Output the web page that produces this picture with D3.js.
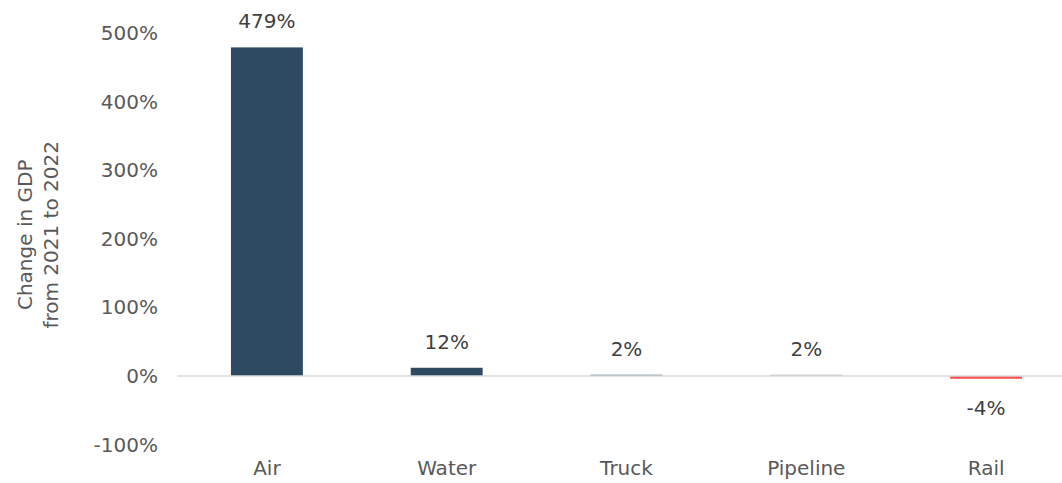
<!DOCTYPE html>
<html>
<head>
<meta charset="utf-8">
<script src="https://cdn.jsdelivr.net/npm/d3@7"></script>
<style>
  body { margin: 0; background: #fff; }
  svg text { font-family: "DejaVu Sans", sans-serif; }
</style>
</head>
<body>
<svg width="1062" height="483"></svg>
<script>
// data
var modes = ["Air", "Water", "Truck", "Pipeline", "Rail"];
var changes = [479, 12, 2, 2, -4];
var barColors = ["#2e4a62", "#2e4a62", "#7d92a6", "#b7c3cf", "#ff4b4b"];
var yTicks = [-100, 0, 100, 200, 300, 400, 500];

var svg = d3.select("svg"),
    width = +svg.attr("width"),
    height = +svg.attr("height");

var fontSize = 20;

var x = d3.scaleBand()
    .domain(modes)
    .range([177, 1076])
    .paddingInner(0.6)
    .paddingOuter(0.3);

var y = d3.scaleLinear()
    .domain([-100, 500])
    .range([444.6, 33]);

var textColor = "#595959";

// y axis labels
svg.append("g")
    .selectAll("text")
    .data(yTicks)
    .enter().append("text")
    .attr("x", 158)
    .attr("y", function(d) { return y(d); })
    .attr("dy", "0.35em")
    .attr("text-anchor", "end")
    .attr("font-size", fontSize)
    .attr("fill", textColor)
    .text(function(d) { return d + "%"; });

// axis title
var title = svg.append("text")
    .attr("transform", "translate(0," + (y(200) - 4) + ") rotate(-90)")
    .attr("text-anchor", "middle")
    .attr("font-size", fontSize)
    .attr("fill", textColor);
title.append("tspan").attr("x", 0).attr("y", 32).text("Change in GDP");
title.append("tspan").attr("x", 0).attr("y", 58).text("from 2021 to 2022");

// bars
svg.append("g")
    .selectAll("rect")
    .data(modes)
    .enter().append("rect")
    .attr("x", function(d) { return x(d); })
    .attr("width", x.bandwidth())
    .attr("y", function(d, i) { return y(Math.max(0, changes[i])); })
    .attr("height", function(d, i) { return Math.abs(y(changes[i]) - y(0)); })
    .attr("fill", function(d, i) { return barColors[i]; });

// zero line
svg.append("line")
    .attr("x1", 177)
    .attr("x2", width)
    .attr("y1", y(0))
    .attr("y2", y(0))
    .attr("stroke", "#d9d9d9")
    .attr("stroke-width", 1.5);

// value labels
svg.append("g")
    .selectAll("text")
    .data(modes)
    .enter().append("text")
    .attr("x", function(d) { return x(d) + x.bandwidth() / 2; })
    .attr("y", function(d, i) {
        return changes[i] >= 0 ? y(changes[i]) - 26 : y(changes[i]) + 29;
    })
    .attr("dy", "0.35em")
    .attr("text-anchor", "middle")
    .attr("font-size", fontSize)
    .attr("fill", "#404040")
    .text(function(d, i) { return changes[i] + "%"; });

// category labels
svg.append("g")
    .selectAll("text")
    .data(modes)
    .enter().append("text")
    .attr("x", function(d) { return x(d) + x.bandwidth() / 2; })
    .attr("y", 468)
    .attr("dy", "0.35em")
    .attr("text-anchor", "middle")
    .attr("font-size", fontSize)
    .attr("fill", textColor)
    .text(function(d) { return d; });
</script>
</body>
</html>
